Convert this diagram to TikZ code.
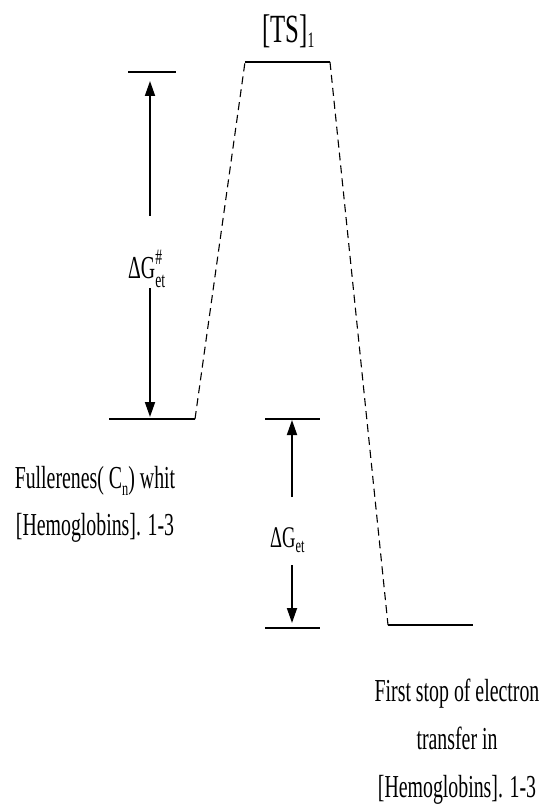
\documentclass[tikz,border=0pt]{standalone}
\usepackage{fontspec}
\setmainfont{Liberation Serif}[FakeStretch=0.62]
\usetikzlibrary{arrows.meta}
\newcommand{\lowtext}[3]{\raisebox{-#1}{\fontsize{#2}{#2}\selectfont #3}}
\newcommand{\hightext}[3]{\raisebox{#1}{\fontsize{#2}{#2}\selectfont #3}}
\begin{document}
\begin{tikzpicture}[x=1pt,y=-1pt,
  level/.style={line width=2.8pt},
  conn/.style={line width=1.1pt, dash pattern=on 8pt off 5pt},
  arr/.style={line width=1.8pt, -{Triangle[length=15pt,width=10pt]}},
  lbl/.style={inner sep=0pt, font=\fontsize{32}{47}\selectfont},
]
\useasboundingbox (0,0) rectangle (544,810);

% energy levels
\coordinate (TopL) at (128,72);   \coordinate (TopR) at (176,72);
\coordinate (TSL) at (245,62);    \coordinate (TSR) at (330,62);
\coordinate (ReL) at (109,419);   \coordinate (ReR) at (195,419);
\coordinate (EtTL) at (265,419);  \coordinate (EtTR) at (320,419);
\coordinate (EtBL) at (265,628);  \coordinate (EtBR) at (320,628);
\coordinate (PrL) at (388,625);   \coordinate (PrR) at (473,625);

\draw[level] (TopL) -- (TopR);
\draw[level] (TSL) -- (TSR);
\draw[level] (ReL) -- (ReR);
\draw[level] (EtTL) -- (EtTR);
\draw[level] (EtBL) -- (EtBR);
\draw[level] (PrL) -- (PrR);

% dashed connectors
\draw[conn] (ReR) -- (TSL);
\draw[conn] (TSR) -- (PrL);

% arrow end points
\coordinate (A1s) at (150,216); \coordinate (A1t) at (150,81);
\coordinate (A2s) at (150,288); \coordinate (A2t) at (150,417);
\coordinate (B1s) at (292,497); \coordinate (B1t) at (292,420);
\coordinate (B2s) at (292,565); \coordinate (B2t) at (292,623);

\draw[arr] (A1s) -- (A1t);
\draw[arr] (A2s) -- (A2t);
\draw[arr] (B1s) -- (B1t);
\draw[arr] (B2s) -- (B2t);

% labels
\node[lbl, anchor=base west, font=\fontsize{40}{40}\selectfont] (ts) at (262,43)
  {[TS]\lowtext{5pt}{22}{1}};
\node[lbl, anchor=base west] (dgs) at (128,278)
  {ΔG\rlap{\hightext{14pt}{22}{\#}}\lowtext{9pt}{22}{et}};
\node[lbl, anchor=base west, font=\fontsize{30}{30}\selectfont] (dge) at (270,547)
  {ΔG\lowtext{5pt}{20}{et}};
\node[lbl, anchor=base, align=center] (react) at (95,535)
  {Fullerenes( C\lowtext{7pt}{20}{n}) whit\\{}[Hemoglobins]. 1-3};
\node[lbl, anchor=base, align=center, font=\fontsize{32}{48}\selectfont] (prod) at (457,797)
  {First stop of electron\\transfer in\\{}[Hemoglobins]. 1-3};
\end{tikzpicture}
\end{document}
